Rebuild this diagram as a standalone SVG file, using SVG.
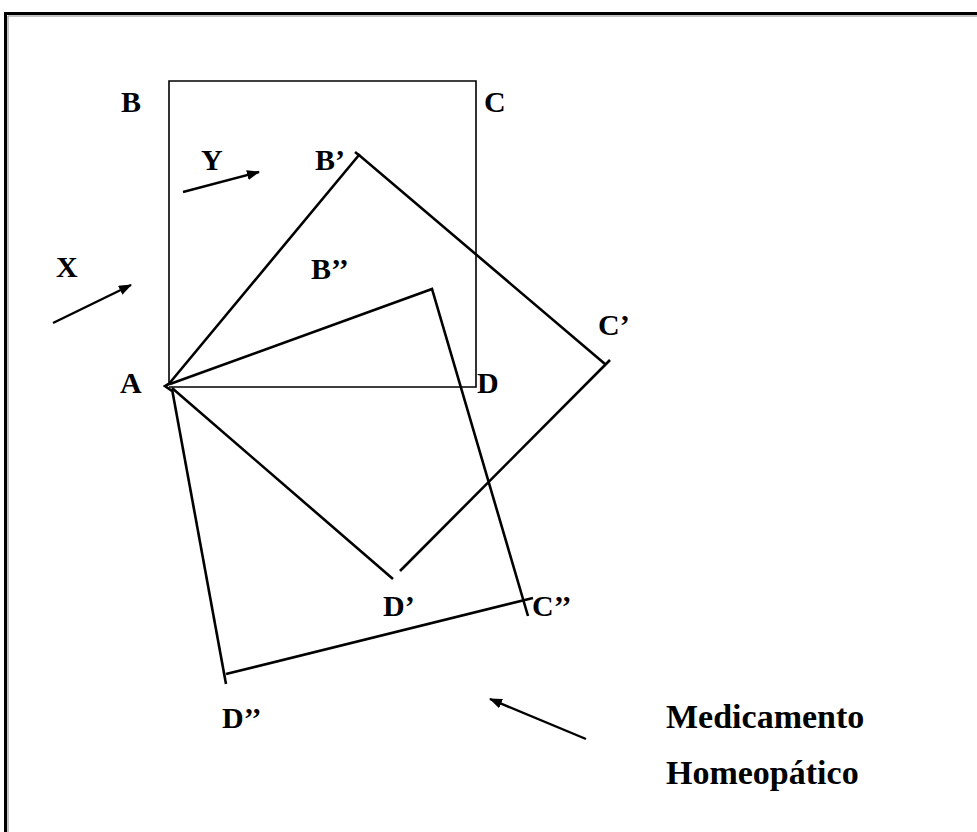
<svg xmlns="http://www.w3.org/2000/svg" width="977" height="832" viewBox="0 0 977 832">
<defs>
<style>
.lbl{font-family:"Liberation Serif","DejaVu Serif",serif;font-weight:bold;font-size:30px;fill:#000}
.txt{font-family:"Liberation Serif","DejaVu Serif",serif;font-weight:bold;font-size:34px;fill:#000}
.thin{fill:none;stroke:#000;stroke-width:1.6}
.thick{fill:none;stroke:#000;stroke-width:2.6;stroke-linecap:butt}
.arr{fill:none;stroke:#000;stroke-width:2.4;marker-end:url(#ah)}
</style>
<marker id="ah" markerWidth="13" markerHeight="10" refX="12" refY="5" orient="auto" markerUnits="userSpaceOnUse" viewBox="0 0 13 10">
<path d="M0,0 L13,5 L0,10 Z" fill="#000"/>
</marker>
</defs>
<rect width="977" height="832" fill="#fff"/>
<g id="frame">
<path d="M5.5,832 V13.5 H977" fill="none" stroke="#000" stroke-width="3"/>
<path d="M8,832 V16 H977" fill="none" stroke="#888" stroke-width="1"/>
</g>
<g id="square-ABCD">
<path class="thin" d="M169,385 V81 H476 V387 H169"/>
</g>
<g id="square-AB1C1D1">
<path class="thick" d="M168,385 L359,155 L605,364"/>
<path class="thick" d="M355,152 L360,156"/>
<path class="thick" d="M610,360 L400,571"/>
<path class="thick" d="M172,388 L393,579"/>
</g>
<g id="square-AB2C2D2">
<path class="thick" d="M170,384 L432,289 L528,616"/>
<path class="thick" d="M172,389 L226,684"/>
<path class="thick" d="M226,674 L533,598"/>
</g>
<g id="corner-A">
<path class="thick" d="M172,382 L165,386 L172,391"/>
</g>
<g id="connectors">
<line class="arr" x1="53" y1="323" x2="131" y2="285"/>
<line class="arr" x1="183" y1="192" x2="259" y2="172"/>
<line class="arr" x1="586" y1="739" x2="490" y2="699"/>
</g>
<g id="labels">
<text class="lbl" x="121" y="112">B</text>
<text class="lbl" x="484" y="112">C</text>
<text class="lbl" x="201" y="170">Y</text>
<text class="lbl" x="315" y="170">B’</text>
<text class="lbl" x="56" y="277">X</text>
<text class="lbl" x="311" y="279">B’’</text>
<text class="lbl" x="598" y="335">C’</text>
<text class="lbl" x="120" y="393">A</text>
<text class="lbl" x="477" y="393">D</text>
<text class="lbl" x="383" y="616">D’</text>
<text class="lbl" x="532" y="616">C’’</text>
<text class="lbl" x="222" y="728">D’’</text>
</g>
<g id="caption">
<text class="txt" x="666" y="728">Medicamento</text>
<text class="txt" x="666" y="784">Homeopático</text>
</g>
</svg>
